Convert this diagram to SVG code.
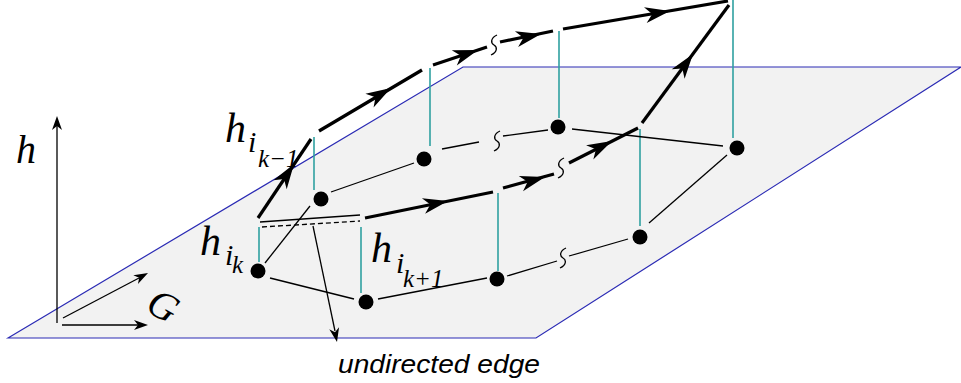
<svg xmlns="http://www.w3.org/2000/svg" xmlns:xlink="http://www.w3.org/1999/xlink" width="961" height="383" viewBox="0 0 961 383">
<style>
.thin{stroke:#000;stroke-width:1.3;fill:none}
.thick{stroke:#000;stroke-width:3.2;fill:none;stroke-linecap:butt}
.teal{stroke:#2fa0a0;stroke-width:1.6;fill:none}
.dot{fill:#000}
</style>
<defs>
<path id="ah" d="M0,0 L-25,-8 L-18,0 L-25,8 Z" fill="#000"/>
<path id="sa" d="M0,0 L-14,-5 L-10,0 L-14,5 Z" fill="#000"/>
<path id="wv" d="M3,-10 C-3.5,-7 -3.5,-2 0,0 C3.5,2 3.5,7 -3,10" fill="none" stroke="#000" stroke-width="1.3"/>
</defs>
<g id="plane">
<polygon points="8,338 463,67 961,67 536,338" fill="#f2f2f2" stroke="#2a2ab4" stroke-width="1.2"/>
</g>
<g id="axes">
<line class="thin" x1="57" y1="323" x2="57" y2="126"/>
<use xlink:href="#sa" transform="translate(57,116) rotate(-90)"/>
<line class="thin" x1="62" y1="325" x2="138" y2="325"/>
<use xlink:href="#sa" transform="translate(148,325)"/>
<line class="thin" x1="63" y1="318" x2="139" y2="278"/>
<use xlink:href="#sa" transform="translate(148,273) rotate(-27.9)"/>
<text x="16" y="163" font-size="40" font-family="Liberation Serif, serif" font-style="italic">h</text>
<text font-size="40" font-family="Liberation Serif, serif" font-style="italic" text-anchor="middle" transform="translate(163,306) rotate(30)" y="13">G</text>
</g>
<g id="verticals">
<line class="teal" x1="259" y1="227" x2="259" y2="262"/>
<line class="teal" x1="361" y1="227" x2="361" y2="293"/>
<line class="teal" x1="498" y1="193" x2="498" y2="271"/>
<line class="teal" x1="640" y1="129" x2="640" y2="226"/>
<line class="teal" x1="733" y1="0" x2="733" y2="138"/>
<line class="teal" x1="559" y1="31" x2="559" y2="118"/>
<line class="teal" x1="430" y1="68" x2="430" y2="146"/>
<line class="teal" x1="314" y1="137" x2="314" y2="190"/>
</g>
<g id="connectors">
<line class="thin" x1="270" y1="278" x2="354" y2="299"/>
<line class="thin" x1="378" y1="299" x2="487" y2="278"/>
<line class="thin" x1="507" y1="276" x2="557" y2="261"/>
<line class="thin" x1="569" y1="256" x2="628" y2="239"/>
<use xlink:href="#wv" transform="translate(563,258)"/>
<line class="thin" x1="649" y1="223" x2="727" y2="155"/>
<line class="thin" x1="723" y1="146" x2="572" y2="129"/>
<line class="thin" x1="548" y1="130" x2="503" y2="136"/>
<line class="thin" x1="479" y1="142" x2="442" y2="149"/>
<use xlink:href="#wv" transform="translate(497,141)"/>
<line class="thin" x1="414" y1="163" x2="331" y2="192"/>
<line class="thin" x1="310" y1="206" x2="265" y2="263"/>
<line class="thin" x1="260" y1="222" x2="360" y2="215"/>
<line class="thin" x1="262" y1="227" x2="360" y2="221" stroke-dasharray="5,3"/>
<line class="thin" x1="313" y1="226" x2="335" y2="331"/>
<use xlink:href="#sa" transform="translate(337,342) rotate(78.3)"/>
<line class="thick" x1="258" y1="218" x2="311" y2="139"/>
<line class="thick" x1="319" y1="131" x2="422" y2="70"/>
<line class="thick" x1="433" y1="65" x2="487" y2="47"/>
<line class="thick" x1="500" y1="42" x2="553" y2="31"/>
<use xlink:href="#wv" transform="translate(494,45)"/>
<line class="thick" x1="563" y1="29" x2="728" y2="1"/>
<line class="thick" x1="642" y1="123" x2="729" y2="5"/>
<line class="thick" x1="365" y1="218" x2="493" y2="192"/>
<line class="thick" x1="503" y1="188" x2="554" y2="174"/>
<line class="thick" x1="569" y1="163" x2="638" y2="128"/>
<use xlink:href="#wv" transform="translate(561,168)"/>
<use xlink:href="#ah" transform="translate(294,164) rotate(-56.1)"/>
<use xlink:href="#ah" transform="translate(391,88) rotate(-30.6)"/>
<use xlink:href="#ah" transform="translate(478,50) rotate(-18.4)"/>
<use xlink:href="#ah" transform="translate(541,34) rotate(-11.7)"/>
<use xlink:href="#ah" transform="translate(670,11) rotate(-9.6)"/>
<use xlink:href="#ah" transform="translate(693,54) rotate(-53.6)"/>
<use xlink:href="#ah" transform="translate(448,201) rotate(-11.5)"/>
<use xlink:href="#ah" transform="translate(545,177) rotate(-15.4)"/>
<use xlink:href="#ah" transform="translate(612,141) rotate(-26.9)"/>
</g>
<g id="nodeA"><circle class="dot" cx="258" cy="271" r="7.5"/></g>
<g id="nodeB"><circle class="dot" cx="366" cy="302" r="7.5"/></g>
<g id="nodeC"><circle class="dot" cx="497" cy="279" r="7.5"/></g>
<g id="nodeD"><circle class="dot" cx="640" cy="237" r="7.5"/></g>
<g id="nodeE"><circle class="dot" cx="737" cy="148" r="7.5"/></g>
<g id="nodeF"><circle class="dot" cx="558" cy="127" r="7.5"/></g>
<g id="nodeG"><circle class="dot" cx="424" cy="159" r="7.5"/></g>
<g id="nodeH"><circle class="dot" cx="321" cy="199" r="7.5"/></g>
<g id="labels">
<text font-size="42" font-family="Liberation Serif, serif" font-style="italic"><tspan x="225" y="142">h</tspan><tspan x="248" y="152" font-size="30">i</tspan><tspan x="258" y="167" font-size="25">k−1</tspan></text>
<text font-size="42" font-family="Liberation Serif, serif" font-style="italic"><tspan x="200" y="255">h</tspan><tspan x="225" y="265" font-size="30">i</tspan><tspan x="232" y="273" font-size="25">k</tspan></text>
<text font-size="42" font-family="Liberation Serif, serif" font-style="italic"><tspan x="371" y="262">h</tspan><tspan x="396" y="273" font-size="30">i</tspan><tspan x="403" y="287" font-size="25">k+1</tspan></text>
<text x="338" y="373" font-size="26" font-family="Liberation Sans, Arial, sans-serif" font-style="italic" textLength="202" lengthAdjust="spacingAndGlyphs">undirected edge</text>
</g>
</svg>
